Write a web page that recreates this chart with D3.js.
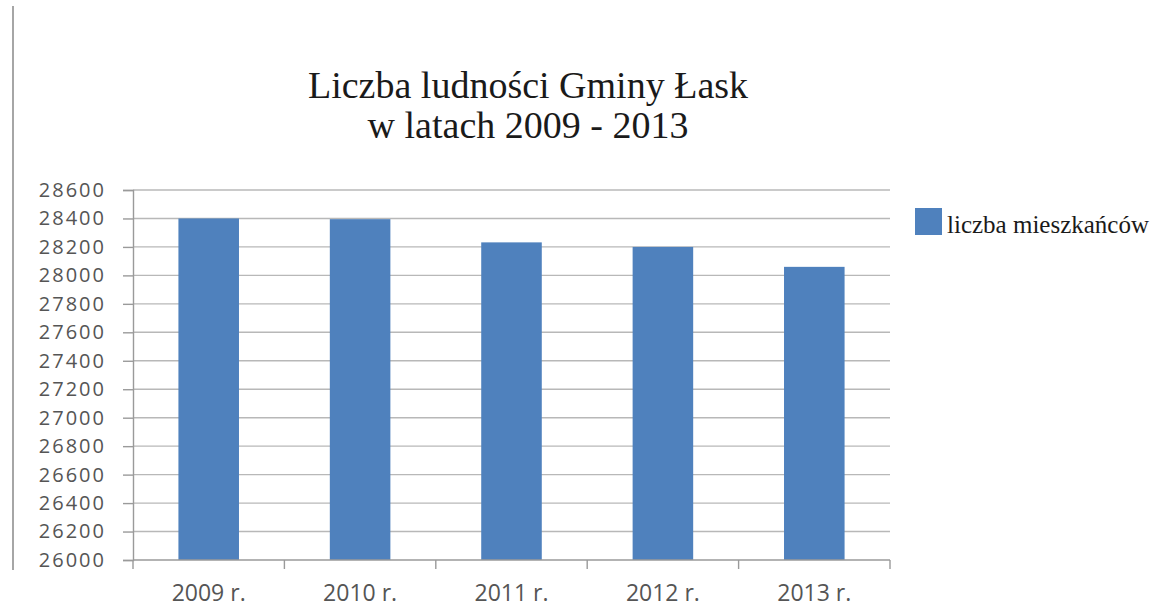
<!DOCTYPE html>
<html>
<head>
<meta charset="utf-8">
<script src="https://cdn.jsdelivr.net/npm/d3@7"></script>
<style>
  body { margin: 0; background: #fff; }
  svg { display: block; }
</style>
</head>
<body>
<div id="chart"></div>
<script>
// data
var years = ["2009 r.", "2010 r.", "2011 r.", "2012 r.", "2013 r."];
var residents = [28400, 28395, 28232, 28200, 28060];
var yTicks = [26000, 26200, 26400, 26600, 26800, 27000, 27200, 27400, 27600, 27800, 28000, 28200, 28400, 28600];
var titleLines = ["Liczba ludności Gminy Łask", "w latach 2009 - 2013"];
var seriesName = "liczba mieszkańców";

var W = 1156, H = 609;
var margin = {top: 190, right: 266, bottom: 49, left: 133},
    width = W - margin.left - margin.right,
    height = H - margin.top - margin.bottom;

var svg = d3.select("#chart")
  .append("svg")
    .attr("width", W)
    .attr("height", H);

// thin gray border on the left of the picture
svg.append("line")
  .attr("x1", 13).attr("x2", 13)
  .attr("y1", 6).attr("y2", 570)
  .attr("stroke", "#a6a6a6")
  .attr("stroke-width", 2);

// title
svg.append("g")
  .selectAll("text")
  .data(titleLines)
  .enter()
  .append("text")
    .attr("x", 528)
    .attr("y", (d, i) => 98 + i * 40)
    .attr("text-anchor", "middle")
    .attr("font-family", "Liberation Serif, Times New Roman, serif")
    .attr("font-size", "38px")
    .attr("fill", "#1a1a1a")
    .text(d => d);

var g = svg.append("g")
  .attr("transform", "translate(" + margin.left + "," + margin.top + ")");

var x = d3.scaleBand()
  .domain(years)
  .range([0, width])
  .paddingInner(0.6)
  .paddingOuter(0.3);

var y = d3.scaleLinear()
  .domain([26000, 28600])
  .range([height, 0]);

// gridlines
g.append("g")
  .selectAll("line")
  .data(yTicks.slice(1))
  .enter()
  .append("line")
    .attr("x1", 0)
    .attr("x2", width)
    .attr("y1", d => y(d))
    .attr("y2", d => y(d))
    .attr("stroke", "#b8b8b8")
    .attr("stroke-width", 1.4);

// bars
g.append("g")
  .selectAll("rect")
  .data(residents)
  .enter()
  .append("rect")
    .attr("x", (d, i) => x(years[i]))
    .attr("y", d => y(d))
    .attr("width", x.bandwidth())
    .attr("height", d => height - y(d))
    .attr("fill", "#4f81bd");

// y axis
var yAxis = g.append("g")
  .call(d3.axisLeft(y).tickValues(yTicks).tickSize(10).tickPadding(17).tickFormat(d3.format("d")));
yAxis.select(".domain").attr("stroke", "#9a9a9a").attr("stroke-width", 1.4);
yAxis.selectAll(".tick line").attr("stroke", "#9a9a9a").attr("stroke-width", 1.4);
yAxis.selectAll("text")
  .attr("font-family", "Open Sans, sans-serif")
  .attr("font-size", "20px")
  .attr("letter-spacing", "2px")
  .attr("fill", "#555555");

// x axis, ticks sit between the categories
var step = width / years.length;
var xAxis = g.append("g")
  .attr("transform", "translate(0," + height + ")");
xAxis.append("line")
  .attr("x1", 0).attr("x2", width)
  .attr("stroke", "#9a9a9a").attr("stroke-width", 1.4);
xAxis.selectAll(".sep")
  .data(d3.range(years.length + 1))
  .enter()
  .append("line")
    .attr("class", "sep")
    .attr("x1", d => d * step).attr("x2", d => d * step)
    .attr("y1", 0).attr("y2", 9)
    .attr("stroke", "#9a9a9a").attr("stroke-width", 1.4);
xAxis.selectAll("text")
  .data(years)
  .enter()
  .append("text")
    .attr("x", d => x(d) + x.bandwidth() / 2)
    .attr("y", 41)
    .attr("text-anchor", "middle")
    .attr("font-family", "Open Sans, sans-serif")
    .attr("font-size", "23px")
    .attr("fill", "#555555")
    .text(d => d);

// legend
var legend = svg.append("g")
  .attr("transform", "translate(915,208)");
legend.append("rect")
  .attr("width", 27)
  .attr("height", 27)
  .attr("fill", "#4f81bd");
legend.append("text")
  .attr("x", 32)
  .attr("y", 25)
  .attr("font-family", "Liberation Serif, Times New Roman, serif")
  .attr("font-size", "25px")
  .attr("fill", "#1a1a1a")
  .text(seriesName);
</script>
</body>
</html>
